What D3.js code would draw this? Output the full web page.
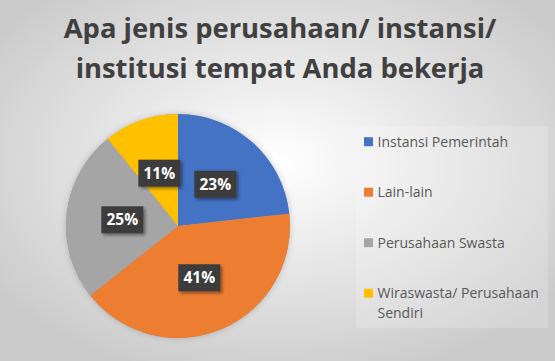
<!DOCTYPE html>
<html><head><meta charset="utf-8">
<script src="https://cdn.jsdelivr.net/npm/d3@7"></script>
<style>html,body{margin:0;padding:0;overflow:hidden;background:#fff}</style>
</head><body>
<svg id="c" width="555" height="361"></svg>
<script>
const titleLines = ["Apa jenis perusahaan/ instansi/", "institusi tempat Anda bekerja"];
const categories = ["Instansi Pemerintah", "Lain-lain", "Perusahaan Swasta", "Wiraswasta/ Perusahaan Sendiri"];
const legendLines = [["Instansi Pemerintah"], ["Lain-lain"], ["Perusahaan Swasta"], ["Wiraswasta/ Perusahaan", "Sendiri"]];
const values = [43, 76, 46, 20];
const colors = ["#4472C4", "#ED7D31", "#A5A5A5", "#FFC000"];

const W = 555, H = 361;
const svg = d3.select("#c");
const defs = svg.append("defs");
const rg = defs.append("radialGradient").attr("id","bg").attr("cx","50%").attr("cy","45%").attr("r","62%");
rg.append("stop").attr("offset","0%").attr("stop-color","#ffffff");
rg.append("stop").attr("offset","100%").attr("stop-color","#cbcbcb");
const sh = defs.append("filter").attr("id","sh").attr("x","-30%").attr("y","-30%").attr("width","160%").attr("height","160%");
sh.append("feDropShadow").attr("dx",2).attr("dy",2).attr("stdDeviation",1.5).attr("flood-color","#000").attr("flood-opacity",0.4);
const psh = defs.append("filter").attr("id","psh").attr("x","-20%").attr("y","-20%").attr("width","140%").attr("height","140%");
psh.append("feDropShadow").attr("dx",0).attr("dy",0).attr("stdDeviation",3).attr("flood-color","#000").attr("flood-opacity",0.2);
const pat = defs.append("pattern").attr("id","dots").attr("width",4).attr("height",4).attr("patternUnits","userSpaceOnUse");
pat.append("rect").attr("width",4).attr("height",4).attr("fill","#3a3a3a");
pat.append("circle").attr("cx",1).attr("cy",1).attr("r",0.6).attr("fill","#555");

svg.append("rect").attr("width",W).attr("height",H).attr("fill","url(#bg)");

// Title
const title = svg.append("g");
const tBase = [38, 78];
titleLines.forEach((t,i)=>{
  title.append("text").attr("x",280).attr("y",tBase[i]).attr("text-anchor","middle")
    .attr("font-family","'Open Sans', sans-serif").attr("font-weight","700").attr("font-size",25)
    .attr("fill","#404040").text(t);
});
const t0 = title.select("text").node();
const fs = 25 * 433 / t0.getComputedTextLength();
title.selectAll("text").attr("font-size", fs);

// Pie
const cx = 178, cy = 226, R = 112;
const pie = d3.pie().sort(null).value(d=>d)(values);
const arc = d3.arc().innerRadius(0).outerRadius(R);
const g = svg.append("g").attr("transform",`translate(${cx},${cy})`);
g.append("circle").attr("r",R).attr("fill","#999").attr("filter","url(#psh)");
g.selectAll("path").data(pie).join("path").attr("d",arc).attr("fill",(d,i)=>colors[i]);

// Labels
const total = d3.sum(values);
const labelArc = d3.arc().innerRadius(R*0.5).outerRadius(R*0.5);
const lg = svg.append("g");
pie.forEach((d,i)=>{
  const [x,y] = labelArc.centroid(d);
  const gg = lg.append("g").attr("transform",`translate(${cx+x},${cy+y})`);
  gg.append("rect").attr("x",-21).attr("y",-13.5).attr("width",42).attr("height",27)
    .attr("fill","url(#dots)").attr("filter","url(#sh)");
  gg.append("text").attr("text-anchor","middle").attr("dy","0.36em")
    .attr("font-family","'Open Sans', sans-serif").attr("font-weight","700").attr("font-size",15.5)
    .attr("fill","#ffffff").text(Math.round(d.value/total*100)+"%");
});

// Legend
svg.append("rect").attr("x",356).attr("y",126).attr("width",192).attr("height",202).attr("fill","#ffffff").attr("opacity",0.18);
const ly = [141.7, 192.2, 242.7, 293.2];
const leg = svg.append("g");
legendLines.forEach((lines,i)=>{
  leg.append("rect").attr("x",364).attr("y",ly[i]-4.5).attr("width",9).attr("height",9).attr("fill",colors[i]);
  lines.forEach((ln,j)=>{
    leg.append("text").attr("class","lt").attr("x",377.5).attr("y",ly[i]+j*19.5).attr("dy","0.35em")
      .attr("font-family","'Open Sans', sans-serif").attr("font-size",12.6).attr("fill","#595959").text(ln);
  });
});
const l0 = leg.select("text.lt").node();
const lfs = 12.6 * 131 / l0.getComputedTextLength();
leg.selectAll("text.lt").attr("font-size", Math.min(lfs, 14));
</script>
</body></html>
